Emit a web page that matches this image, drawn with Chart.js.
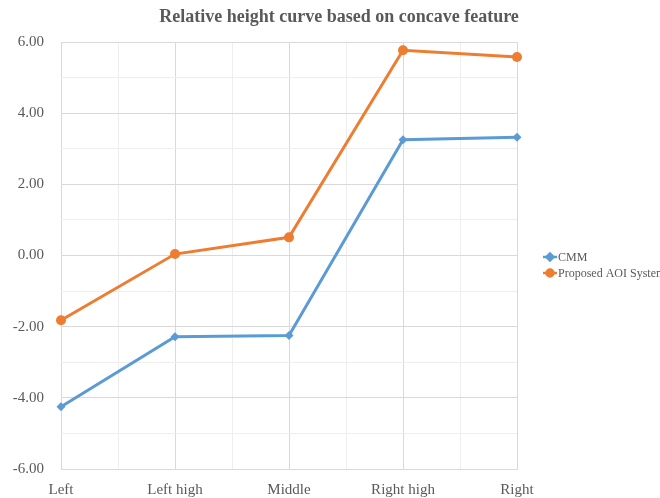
<!DOCTYPE html>
<html>
<head>
<meta charset="utf-8">
<script src="https://cdn.jsdelivr.net/npm/chart.js@4/dist/chart.umd.min.js"></script>
<style>
  html, body { margin: 0; padding: 0; background: #ffffff; }
  #wrap { width: 660px; height: 498px; position: relative; }
</style>
</head>
<body>
<div id="wrap"><canvas id="c" width="660" height="498"></canvas></div>
<script>
// Measurement positions along the concave feature
const categories = ['Left', 'Left high', 'Middle', 'Right high', 'Right'];
// Relative heights for each method
const cmmValues = [-4.25, -2.28, -2.25, 3.25, 3.32];
const aoiValues = [-1.82, 0.04, 0.51, 5.77, 5.58];
const seriesNames = ['CMM', 'Proposed AOI System'];
const titleText = 'Relative height curve based on concave feature';

const BLUE = '#5B9BD5';
const ORANGE = '#ED7D31';
const TEXT = '#595959';
const SERIF = '"Liberation Serif", "Times New Roman", serif';

const toPoints = vals => vals.map((v, i) => ({ x: i, y: v }));

// Title and legend drawn on the canvas
const decorations = {
  id: 'decorations',
  afterDraw(chart) {
    const ctx = chart.ctx;
    ctx.save();
    ctx.fillStyle = TEXT;
    ctx.font = 'bold 18px ' + SERIF;
    ctx.textAlign = 'center';
    ctx.textBaseline = 'middle';
    ctx.fillText(titleText, 339, 17);

    const items = [
      { name: seriesNames[0], color: BLUE, style: 'rectRot' },
      { name: seriesNames[1], color: ORANGE, style: 'circle' }
    ];
    ctx.font = '12px ' + SERIF;
    ctx.textAlign = 'left';
    items.forEach((it, k) => {
      const y = 257 + k * 16;
      ctx.strokeStyle = it.color;
      ctx.lineWidth = 2.5;
      ctx.beginPath();
      ctx.moveTo(543, y);
      ctx.lineTo(557, y);
      ctx.stroke();
      Chart.helpers.drawPoint(ctx, {
        pointStyle: it.style, radius: 3.5, borderWidth: 1, rotation: 0
      }, 550, y);
      ctx.fillStyle = it.color;
      ctx.fill();
      ctx.fillStyle = TEXT;
      ctx.fillText(it.name, 558, y + 1);
    });
    ctx.restore();
  }
};

new Chart(document.getElementById('c'), {
  type: 'line',
  data: {
    datasets: [
      {
        label: seriesNames[0],
        data: toPoints(cmmValues),
        borderColor: BLUE,
        backgroundColor: BLUE,
        borderWidth: 3,
        pointStyle: 'rectRot',
        pointRadius: 4.5,
        pointBorderWidth: 0,
        tension: 0,
        clip: false
      },
      {
        label: seriesNames[1],
        data: toPoints(aoiValues),
        borderColor: ORANGE,
        backgroundColor: ORANGE,
        borderWidth: 3,
        pointStyle: 'circle',
        pointRadius: 5,
        pointBorderWidth: 0,
        tension: 0,
        clip: false
      }
    ]
  },
  options: {
    responsive: false,
    animation: false,
    devicePixelRatio: 1,
    layout: { padding: { top: 42, right: 143, bottom: 0, left: 0 } },
    plugins: {
      legend: { display: false },
      title: { display: false },
      tooltip: { enabled: false }
    },
    scales: {
      x: {
        type: 'linear',
        min: 0,
        max: categories.length - 1,
        afterBuildTicks(scale) {
          const t = [];
          for (let v = 0; v <= categories.length - 1 + 1e-9; v += 0.5) t.push({ value: v });
          scale.ticks = t;
        },
        afterFit(scale) { scale.height = 29; },
        grid: {
          drawTicks: false,
          color: ctx => (ctx.tick && Number.isInteger(ctx.tick.value)) ? '#d9d9d9' : '#eeeeee',
          lineWidth: 1
        },
        border: { display: true, color: '#d9d9d9', width: 1 },
        ticks: {
          autoSkip: false,
          maxRotation: 0,
          padding: 12,
          color: TEXT,
          font: { family: SERIF, size: 15 },
          callback: v => Number.isInteger(v) ? categories[v] : ''
        }
      },
      y: {
        min: -6,
        max: 6,
        afterBuildTicks(scale) {
          const t = [];
          for (let v = -6; v <= 6; v += 1) t.push({ value: v });
          scale.ticks = t;
        },
        afterFit(scale) { scale.width = 61; },
        grid: {
          drawTicks: false,
          color: ctx => (ctx.tick && ctx.tick.value % 2 === 0) ? '#d9d9d9' : '#eeeeee',
          lineWidth: 1
        },
        border: { display: false },
        ticks: {
          padding: 17,
          color: TEXT,
          font: { family: SERIF, size: 15 },
          callback: v => (v % 2 === 0) ? v.toFixed(2) : ''
        }
      }
    }
  },
  plugins: [decorations]
});
</script>
</body>
</html>
